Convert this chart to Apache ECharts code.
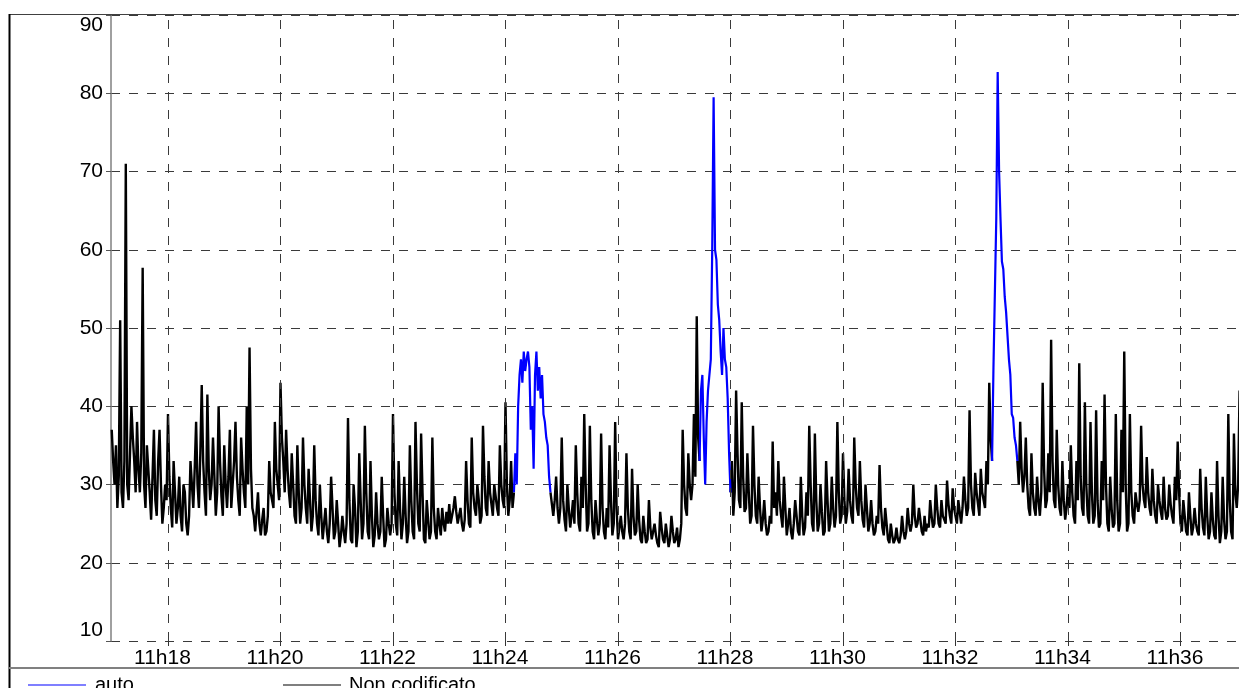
<!DOCTYPE html>
<html>
<head>
<meta charset="utf-8">
<script src="https://cdn.jsdelivr.net/npm/echarts@6/dist/echarts.min.js"></script>
<style>
html,body{margin:0;padding:0;background:#fff;}
#chart{width:1239px;height:688px;}
</style>
</head>
<body>
<div id="chart"></div>
<script>
// ---- data (minutes after 11h00, sampled every 1.5 s) ----
const START_MIN = 17;
const STEP_MIN = 0.025;
const xTickMinutes = [18, 20, 22, 24, 26, 28, 30, 32, 34, 36];
const xTickLabels = ['11h18', '11h20', '11h22', '11h24', '11h26', '11h28', '11h30', '11h32', '11h34', '11h36'];
const yTicks = [10, 20, 30, 40, 50, 60, 70, 80, 90];
const seriesNames = ['auto', 'Non codificato'];

const nonCodificato = [
  37,33,30,35,27,31,51,29,27,33,71,30,28,34,40,36,33,29,38,32,29,34,57.7,30,27,35,32,29,25.5,31,37,28,26,33,37,30,25,27,30,28,
  39,31,27,24.5,33,29,25,27,31,26,24,30,29,25,23.5,26,33,30,27,32,38,30,27,34,42.7,33,29,26,41.5,32,28,30,36,31,26,29,40,33,28.5,26,
  35,30,27,31,37,27,30,33,38,31,28,26,36,32,29,27,40,30,47.5,32,27,26,24,26.5,29,25,23.5,25.5,27,23.5,24,26,33,29,28,27,38,32,30,28,
  43,36,33,29,37,32,29,27,34,30,26,25,35,29,25,27,36,30,27,25,32,28,24,26,35,28,25,23.5,30,26,23,25,27,24,22.5,25,31,27,23,24,
  28,25,22,23.5,26,24,22.5,25,38.5,28,23,22.5,30,27,22,24,34,28,23,25,37.5,29,24,23,33,26,22,23.5,29,25,23,24,31,26,22,23,27,25,23.5,25,
  39,29,25,23.5,33,27,23,25,31,26,22.5,24,35,28,24,23,38,30,25,24,36.5,29,23,22.5,28,25.5,23,24,36,27,24,23,27,25,23.5,27,25,24,26.5,25,
  27.5,25,26,27,28.5,26.5,25,26,27,25,24,25.5,33,28,25,24.5,36,29,27,26,30,28,25,26,37.5,31,27,26,33,29,27.5,26,30,28.5,27,26,35,30,28,27,
  40.5,30,26,28,33,27,29,null,null,null,null,null,null,null,null,null,null,null,null,null,null,null,null,null,null,null,null,null,null,null,null,null,29,27.5,26,28,31,27,25,27,
  36,28,25.5,24,30,27,24.5,26,28,25,35,29,25,24,31,27,39,30,24,25,37.5,28,24,23,28,25.5,23.5,25,36.5,27,24,23,27,24.5,35,28,23.5,25,38,27,
  23,24.5,26,24,23,25,34,27,24,23,32,26,23.5,24,30,25.5,23,22.5,26,24,22.5,23,28,24.5,23,24,25,23.5,22.5,22,26.5,24.5,23,22.5,25,23.5,22,23,26,24,
  22.5,23,24.5,22,23,25,37,30,27,26,34,30,28,30,39,31,51.5,36,33,null,null,null,null,null,null,null,null,null,null,null,null,null,null,null,null,null,null,null,null,null,
  29,33,26,29,42,34,28,27,40.5,31,26.5,27,34,29,25,26,37.5,30,26,25,31,27,24,25.5,28,25,23.5,24,26,25,35.5,27,29,26,33,28,26,24.5,31,27,
  23.5,25,27,24,23,25,28,26,24,23.5,31,26,23.5,24.5,29,26,37.5,30,25,24,36.5,28,24,25,30,26.5,23.5,24,33,28,24,25,31,27,24.5,26,38,29,25,26,
  34,28,25,26.5,32,28,26,25,36,30,27,26,33,28,25.5,24.5,30,27,24,25,28,25,23.5,24,26,25,32.5,27,24.5,23.5,27,25,23,22.5,25,23.5,22.5,23,24.5,23,
  22.5,23.5,26,24,23,24,27,25,24,25,30,26,24.5,25,27,25.5,24,23.5,26,24,25,24.5,28,26,24.5,25,30,27,25,24.5,28,26,25.5,25,30.5,27.5,26,25,29.5,27,
  26,25,28,26.5,25,27,31,28,26,27,39.5,30,27,26,31.5,29,27.5,26,32,29,28,27,33,30,43,36,33,null,null,null,null,null,null,null,null,null,null,null,null,null,
  null,null,null,null,33,30,38,32,29,31,36,30,27,26,34,29,27,26,31,28,26,29,43,32,27,28,34,29,48.5,33,28,27,37,30,27,26,33,28,25.5,27,
  30,27,35,29,26,25,33,28,45.5,31,27,26,40.5,30,26,25,38,29,25,26,39.5,28,24.5,25,33,28,41.5,30,25,24,31,27,24.5,25,39,28,24,25,37,29,
  47,30,24,25,39,29,26,25,29,27.5,26.5,28,37.5,30,28,27,33.5,29,27,26,32,28,26,25,30,28,26.5,25.5,31,27,25.5,26,30,27.5,26,25,31,28,35.5,29,
  25,24,28,26,24,23.5,29,26,23.5,24.5,27,25,24,23.5,32,27,24.5,23.5,31,26,23,24,29,25.5,23.5,23,33,26,22.5,24,31,25.5,23,24,39,28,24,23,36.5,29,
  27,30,42
];

const autoStartMinutes = [24.15, 27.45, 32.65];
const autoPass1 = [29,34,30,40,44,46,43,47,44.5,46,47,45,37,40,32,44,47,42,45,41,44,39,38,36,35,31,29];
const autoPass2 = [33,42,44,36,30,38,42,44,46,60,79.5,60,58.7,53,51,47,44,50,46,45,41,34,29];
const autoPass3 = [33,45,54.5,64,82.7,70,64,58.5,57.5,54,52,49,46,44,39,38.5,36,35,33];

// ---- build series data ----
const blackData = nonCodificato.map((v, i) => [START_MIN + i * STEP_MIN, v]);
const blueData = [];
[autoPass1, autoPass2, autoPass3].forEach((arr, k) => {
  arr.forEach((v, i) => blueData.push([autoStartMinutes[k] + i * STEP_MIN, v]));
  blueData.push([autoStartMinutes[k] + arr.length * STEP_MIN, null]);
});

const FONT = 'Liberation Sans, Arial, sans-serif';
const GRID_COLOR = '#3a3a3a';
const DASH = [9, 9];

const chart = echarts.init(document.getElementById('chart'), null, {renderer: 'canvas'});
chart.setOption({
  animation: false,
  backgroundColor: '#ffffff',
  grid: {left: 111, right: 0, top: 15, bottom: 47, containLabel: false},
  legend: [
    {
      data: [seriesNames[0]], left: 23, top: 670, icon: 'rect', itemWidth: 58, itemHeight: 1,
      textStyle: {fontFamily: FONT, fontSize: 20, color: '#000', padding: [0, 0, 0, 4]}
    },
    {
      data: [seriesNames[1]], left: 278, top: 670, icon: 'rect', itemWidth: 58, itemHeight: 1,
      textStyle: {fontFamily: FONT, fontSize: 20, color: '#000', padding: [0, 0, 0, 3]}
    }
  ],
  xAxis: {
    type: 'value',
    min: 16.987,
    max: 37.04,
    axisLine: {show: false},
    axisTick: {show: true, customValues: xTickMinutes, length: 5, lineStyle: {color: '#333', width: 1}},
    axisLabel: {
      customValues: xTickMinutes,
      formatter: v => xTickLabels[xTickMinutes.indexOf(Math.round(v))] || '',
      fontFamily: FONT, fontSize: 21, color: '#000', margin: 7, padding: [0, 11, 0, 0]
    },
    splitLine: {show: false}
  },
  yAxis: {
    type: 'value',
    min: yTicks[0],
    max: yTicks[yTicks.length - 1],
    interval: 10,
    axisLine: {show: true, lineStyle: {color: '#808080', width: 1.5}},
    axisTick: {show: true, length: 5, lineStyle: {color: '#555', width: 1}},
    axisLabel: {
      fontFamily: FONT, fontSize: 21, color: '#000', margin: 8,
      verticalAlignMinLabel: 'bottom', verticalAlignMaxLabel: 'top'
    },
    splitLine: {show: true, lineStyle: {color: GRID_COLOR, type: DASH, width: 1}}
  },
  series: [
    {
      name: 'grid-v',
      type: 'line',
      data: [],
      z: 1,
      silent: true,
      legendHoverLink: false,
      markLine: {
        silent: true,
        symbol: ['none', 'none'],
        label: {show: false},
        lineStyle: {color: GRID_COLOR, type: DASH, width: 1},
        data: xTickMinutes.map(m => ({xAxis: m}))
      }
    },
    {
      name: seriesNames[1],
      type: 'line',
      data: blackData,
      z: 3,
      showSymbol: false,
      connectNulls: false,
      sampling: null,
      color: '#000000',
      lineStyle: {color: '#000000', width: 2.4}
    },
    {
      name: seriesNames[0],
      type: 'line',
      data: blueData,
      z: 4,
      showSymbol: false,
      connectNulls: false,
      color: '#0000ff',
      lineStyle: {color: '#0000ff', width: 2.2}
    }
  ],
  graphic: [
    {type: 'line', z: 100, shape: {x1: 9, y1: 14.5, x2: 1239, y2: 14.5}, style: {stroke: '#404040', lineWidth: 1}},
    {type: 'line', z: 100, shape: {x1: 9.5, y1: 14, x2: 9.5, y2: 688}, style: {stroke: '#000', lineWidth: 2}},
    {type: 'line', z: 100, shape: {x1: 9, y1: 668, x2: 1239, y2: 668}, style: {stroke: '#808080', lineWidth: 2}}
  ]
});
</script>
</body>
</html>
